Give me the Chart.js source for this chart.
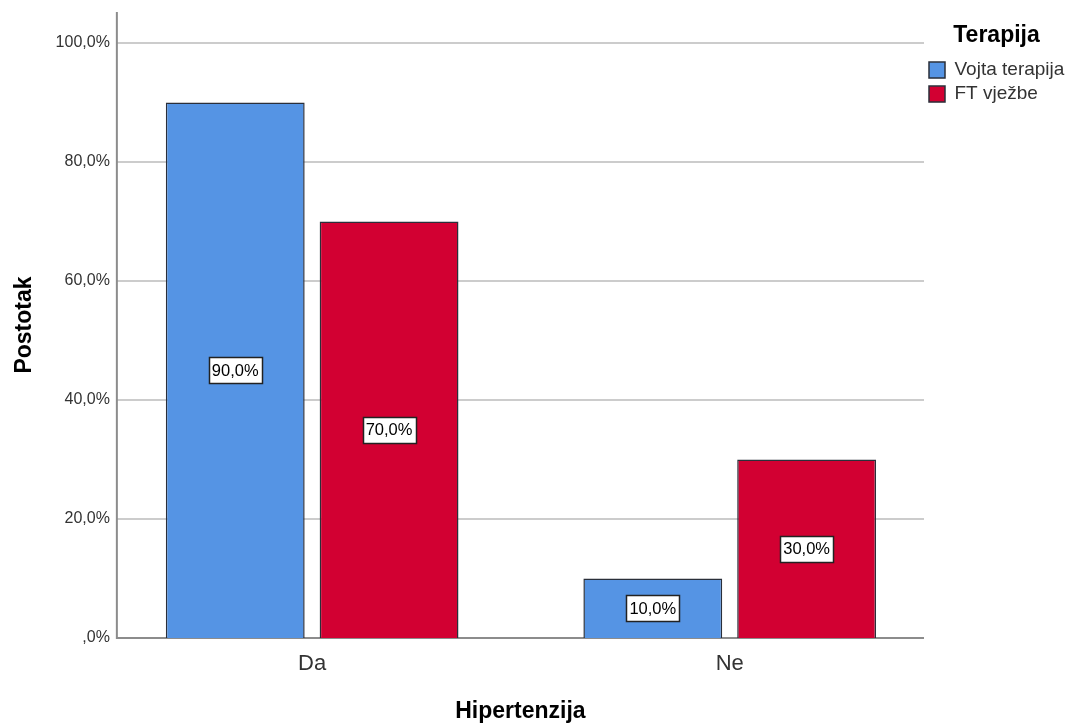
<!DOCTYPE html>
<html>
<head>
<meta charset="utf-8">
<script src="https://cdn.jsdelivr.net/npm/chart.js@4"></script>
<style>
html,body{margin:0;padding:0;background:#fff;}
#wrap{position:relative;width:1070px;height:725px;}
</style>
</head>
<body>
<div id="wrap"><canvas id="c" width="1070" height="725"></canvas></div>
<script>
const categories = ['Da', 'Ne'];
const seriesNames = ['Vojta terapija', 'FT vježbe'];
const vojtaValues = [90.0, 10.0];
const ftValues = [70.0, 30.0];
const yTicks = [0, 20, 40, 60, 80, 100];

const FONT = '"Liberation Sans", Arial, sans-serif';
const fmt = v => (v === 0 ? ',0%' : v.toFixed(1).replace('.', ',') + '%');

const axisLines = {
  id: 'axisLines',
  beforeDatasetsDraw(chart) {
    const {ctx, chartArea: a, scales: {y}} = chart;
    ctx.save();
    ctx.strokeStyle = '#cccccc';
    ctx.lineWidth = 2;
    yTicks.forEach(t => {
      if (t === 0) return;
      const py = Math.round(y.getPixelForValue(t));
      ctx.beginPath(); ctx.moveTo(a.left, py); ctx.lineTo(a.right, py); ctx.stroke();
    });
    ctx.strokeStyle = '#8c8c8c';
    ctx.beginPath();
    ctx.moveTo(a.left, a.top);
    ctx.lineTo(a.left, y.getPixelForValue(0));
    ctx.lineTo(a.right, y.getPixelForValue(0));
    ctx.stroke();
    ctx.restore();
  },
  afterDatasetsDraw(chart) {
    const {ctx} = chart;
    ctx.save();
    ctx.font = '16.5px ' + FONT;
    ctx.textAlign = 'center';
    ctx.textBaseline = 'middle';
    chart.data.datasets.forEach((ds, di) => {
      chart.getDatasetMeta(di).data.forEach((bar, i) => {
        const txt = fmt(ds.data[i]);
        const cx = bar.x, cy = (bar.y + bar.base) / 2;
        const w = Math.round(ctx.measureText(txt).width + 6), h = 26;
        const bx = Math.round(cx - w / 2), by = Math.round(cy - h / 2);
        ctx.fillStyle = '#ffffff';
        ctx.fillRect(bx, by, w, h);
        ctx.strokeStyle = '#222222';
        ctx.lineWidth = 1.5;
        ctx.strokeRect(bx + 0.5, by + 0.5, w, h);
        ctx.fillStyle = '#000000';
        ctx.fillText(txt, cx, cy + 1);
      });
    });
    ctx.restore();
  }
};

new Chart(document.getElementById('c'), {
  type: 'bar',
  data: {
    labels: categories,
    datasets: [
      {label: seriesNames[0], data: vojtaValues, backgroundColor: '#5594e4', borderColor: '#2a2f3a', borderWidth: 1.5},
      {label: seriesNames[1], data: ftValues, backgroundColor: '#d20032', borderColor: '#2a2f3a', borderWidth: 1.5}
    ]
  },
  options: {
    responsive: false,
    animation: false,
    devicePixelRatio: 1,
    layout: {padding: {top: 12, left: 0, right: 1, bottom: 0}},
    datasets: {bar: {categoryPercentage: 0.7368, barPercentage: 0.9026}},
    plugins: {
      legend: {
        position: 'right',
        align: 'start',
        maxWidth: 145,
        title: {display: true, text: 'Terapija', color: '#000', font: {family: FONT, size: 23, weight: 'bold'}, padding: {top: 12, bottom: 4}},
        labels: {
          boxWidth: 16, boxHeight: 16, padding: 5, color: '#333',
          font: {family: FONT, size: 19}
        }
      },
      tooltip: {enabled: false}
    },
    scales: {
      x: {
        afterBuildTicks(scale) {
          scale._valueRange = 1.933;
          scale._startValue = -0.4677;
        },
        grid: {display: false, drawTicks: false},
        border: {display: false},
        ticks: {color: '#333', padding: 13, font: {family: FONT, size: 22}},
        title: {display: true, text: 'Hipertenzija', color: '#000', font: {family: FONT, size: 23, weight: 'bold'}, padding: {top: 7, bottom: 0}}
      },
      y: {
        min: 0, max: 105.2,
        grid: {display: false, drawTicks: false},
        border: {display: false},
        afterBuildTicks(scale) { scale.ticks = yTicks.map(v => ({value: v})); },
        afterFit(scale) { scale.paddingTop = 0; scale.paddingBottom = 0; },
        ticks: {color: '#333', padding: 7, font: {family: FONT, size: 16}, callback: v => fmt(v)},
        title: {display: true, text: 'Postotak', color: '#000', font: {family: FONT, size: 23, weight: 'bold'}, padding: {top: 11, bottom: 10}}
      }
    }
  },
  plugins: [axisLines]
});
</script>
</body>
</html>
